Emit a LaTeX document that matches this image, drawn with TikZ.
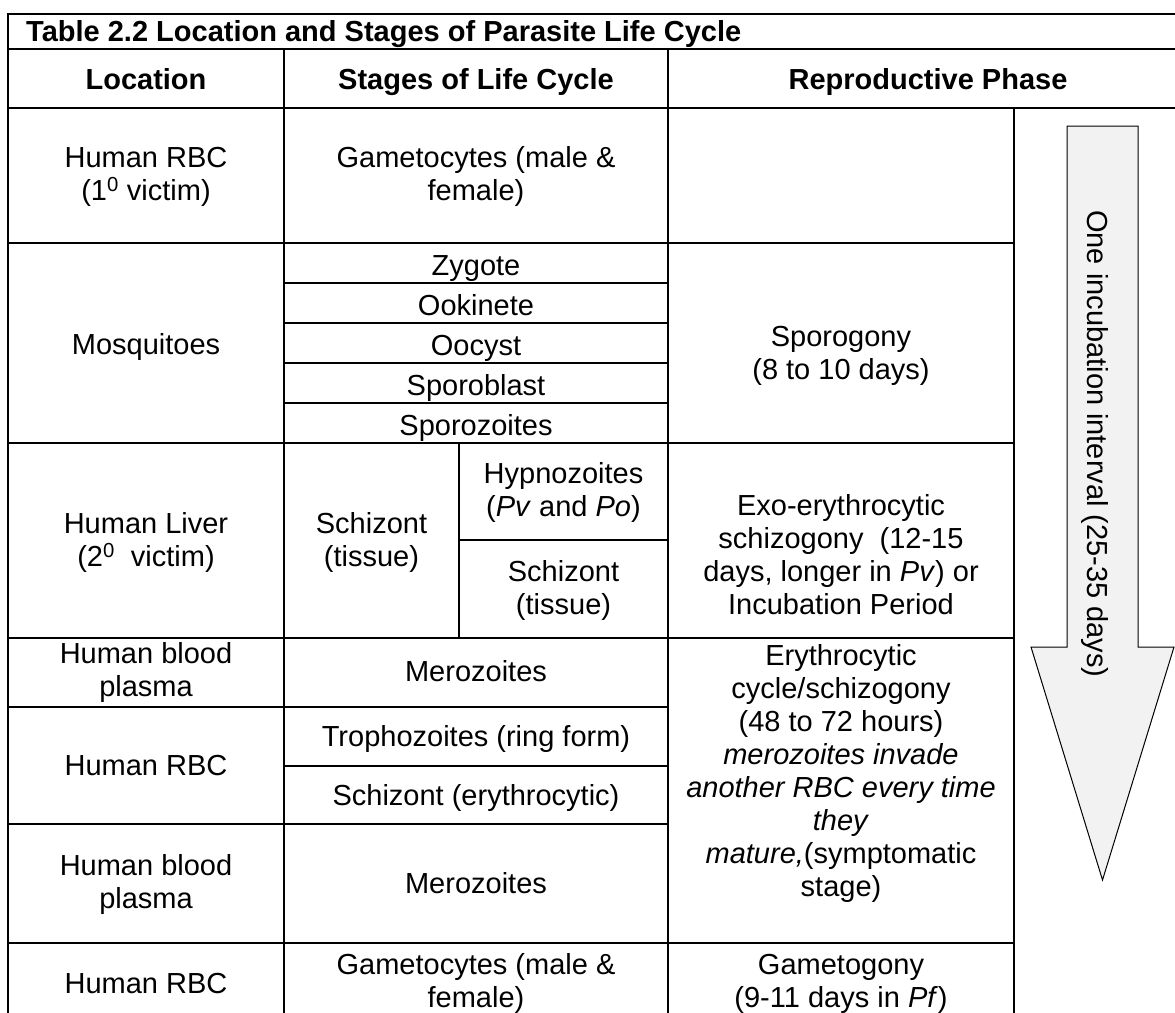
\documentclass[tikz,border=0pt]{standalone}
\usepackage{fontspec}
\setmainfont{Liberation Sans}
\newcommand\cellfont{\fontsize{29}{33}\selectfont}
\begin{document}
\begin{tikzpicture}[x=1pt,y=-1pt,
  rule/.style={line width=2pt,line cap=rect},
  plain/.style={align=center,font=\cellfont,inner sep=0pt},
  cell/.style={plain,execute at begin node=\strut,execute at end node=\strut},
  head/.style={cell,font=\cellfont\bfseries},
  arrowbox/.style={draw=black,line width=1pt,fill=black!5,line join=miter}]
\useasboundingbox (0,0) rectangle (1175,1012);
\clip (0,0) rectangle (1175,1012);
\fill[white] (0,0) rectangle (1175,1012);
% arrow
\draw[arrowbox] (1067,126) -- (1138,126) -- (1138,647) -- (1174,647) -- (1102.5,880) -- (1031,647) -- (1067,647) -- cycle;
\node[plain,rotate=-90] (arrowtxt) at (1094.5,444) {One incubation interval (25-35 days)};
% table rules
\draw[rule] (8,1012) -- (8,14) -- (1176,14);
\draw[rule] (8,49) -- (1176,49);
\draw[rule] (8,108) -- (1176,108);
\draw[rule] (284,49) -- (284,1013);
\draw[rule] (668,49) -- (668,1013);
\draw[rule] (1014,108) -- (1014,1013);
\draw[rule] (8,243) -- (1014,243);
\foreach \yy in {283,323,363,403} \draw[rule] (284,\yy) -- (668,\yy);
\draw[rule] (8,443) -- (1014,443);
\draw[rule] (459,443) -- (459,638);
\draw[rule] (459,540) -- (668,540);
\draw[rule] (8,638) -- (1014,638);
\draw[rule] (8,707) -- (668,707);
\draw[rule] (284,766) -- (668,766);
\draw[rule] (8,824) -- (668,824);
\draw[rule] (8,943) -- (1014,943);
% title and headers
\node[head,anchor=west] (title) at (26,35.1) {Table 2.2 Location and Stages of Parasite Life Cycle};
\node[head] (hloc) at (146,82.4) {Location};
\node[head] (hstage) at (476,82.4) {Stages of Life Cycle};
\node[head] (hrep) at (928,82.4) {Reproductive Phase};
% row 1
\node[cell] (loc1) at (146,178.9) {Human RBC\\(1\textsuperscript{0} victim)};
\node[cell] (st1) at (476,178.9) {Gametocytes (male \&\\female)};
% mosquitoes
\node[cell] (loc2) at (146,347.4) {Mosquitoes};
\node[cell] (zyg) at (476,268.4) {Zygote};
\node[cell] (ook) at (476,308.4) {Ookinete};
\node[cell] (ooc) at (476,348.4) {Oocyst};
\node[cell] (spb) at (476,388.4) {Sporoblast};
\node[cell] (spz) at (476,428.4) {Sporozoites};
\node[cell] (rep2) at (841,358) {Sporogony\\(8 to 10 days)};
% liver
\node[cell] (loc3) at (146,544.5) {Human Liver\\(2\textsuperscript{0}\ \ victim)};
\node[cell] (st3) at (371.5,544.5) {Schizont\\(tissue)};
\node[cell] (hyp) at (563.5,494) {Hypnozoites\\(\textit{Pv} and \textit{Po})};
\node[cell] (sch) at (563.5,592.5) {Schizont\\(tissue)};
\node[cell] (rep3) at (841,559.5) {Exo-erythrocytic\\schizogony\ \ (12-15\\days, longer in \textit{Pv}) or\\Incubation Period};
% blood
\node[cell] (loc4) at (146,674) {Human blood\\plasma};
\node[cell] (mer1) at (476,675) {Merozoites};
\node[cell] (rep4) at (841,775) {Erythrocytic\\cycle/schizogony\\(48 to 72 hours)\\\textit{merozoites invade}\\\textit{another RBC every time}\\\textit{they}\\\textit{mature,}(symptomatic\\stage)};
\node[cell] (loc5) at (146,768.4) {Human RBC};
\node[cell] (tro) at (476,739.4) {Trophozoites (ring form)};
\node[cell] (sce) at (476,799) {Schizont (erythrocytic)};
\node[cell] (loc6) at (146,886.9) {Human blood\\plasma};
\node[cell] (mer2) at (476,886.4) {Merozoites};
% last row
\node[cell] (loc7) at (146,986.4) {Human RBC};
\node[cell] (st7) at (476,985.5) {Gametocytes (male \&\\female)};
\node[cell] (rep7) at (841,985.5) {Gametogony\\(9-11 days in \textit{Pf})};
\end{tikzpicture}
\end{document}
